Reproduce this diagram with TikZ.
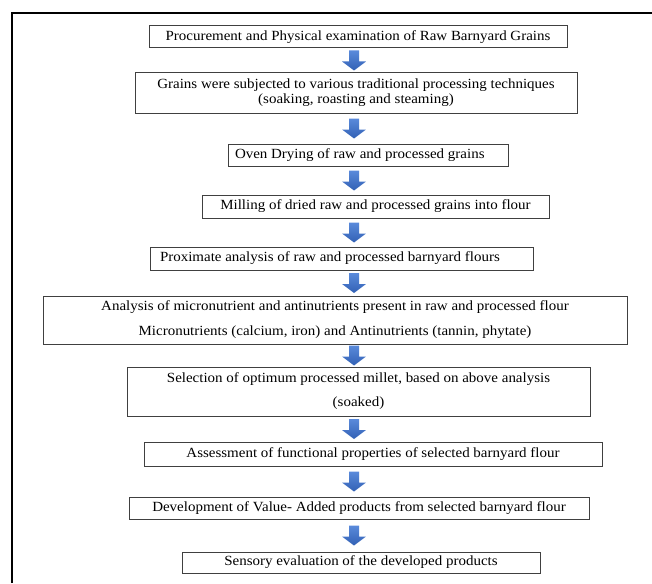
\documentclass[tikz,border=0pt]{standalone}
\usepackage{fontspec}
\setmainfont{Liberation Serif}[FakeStretch=1.07]
\usetikzlibrary{calc}
\definecolor{boxline}{HTML}{404040}
\definecolor{arrtop}{HTML}{5A8ADB}
\definecolor{arrbot}{HTML}{3261B4}
\tikzset{
  box/.style={draw=boxline, line width=1pt, inner sep=0pt, align=center,
    font=\fontsize{14}{15}\selectfont},
  downarrow/.pic={
    \shade[top color=arrtop, bottom color=arrbot]
      (-5,-10) -- (5,-10) -- (5,1) -- (12,1) -- (0,10) -- (-12,1) -- (-5,1) -- cycle;
  }
}
\begin{document}
\begin{tikzpicture}[x=1pt,y=-1pt]
\useasboundingbox (0,0) rectangle (652,583);
\draw[line width=1.3pt] (12,583) -- (12,13) -- (652,13);
\coordinate (ax) at (354,0);

\node[box, minimum width=418pt, minimum height=22pt] (b1) at (358,37)
  {Procurement and Physical examination of Raw Barnyard Grains};
\node[box, minimum width=442pt, minimum height=40pt] (b2) at (356,93)
  {Grains were subjected to various traditional processing techniques\\(soaking, roasting and steaming)};
\node[box, minimum width=280pt, minimum height=22pt, inner xsep=7pt, text width=266pt, align=flush left] (b3) at (368,155)
  {Oven Drying of raw and processed grains};
\node[box, minimum width=347pt, minimum height=23pt] (b4) at (375.5,206.5)
  {Milling of dried raw and processed grains into flour};
\node[box, minimum width=383pt, minimum height=23pt, inner xsep=10pt, text width=363pt, align=flush left] (b5) at (341.5,258.5)
  {Proximate analysis of raw and processed barnyard flours};
\node[box, minimum width=584pt, minimum height=48pt, font=\fontsize{14}{25}\selectfont] (b6) at (335,320)
  {Analysis of micronutrient and antinutrients present in raw and processed flour\\Micronutrients (calcium, iron) and Antinutrients (tannin, phytate)};
\node[box, minimum width=463pt, minimum height=49pt, font=\fontsize{14}{24}\selectfont] (b7) at (358.5,391.5)
  {Selection of optimum processed millet, based on above analysis\\(soaked)};
\node[box, minimum width=458pt, minimum height=24pt] (b8) at (373,454)
  {Assessment of functional properties of selected barnyard flour};
\node[box, minimum width=460pt, minimum height=22pt] (b9) at (359,508)
  {Development of Value- Added products from selected barnyard flour};
\node[box, minimum width=358pt, minimum height=21pt] (b10) at (361,562.5)
  {Sensory evaluation of the developed products};

\foreach \a/\b in {b1/b2,b2/b3,b3/b4,b4/b5,b5/b6,b6/b7,b7/b8,b8/b9,b9/b10}{
  \path ($(\a.south -| ax)!0.5!(\b.north -| ax)$) pic {downarrow};
}
\end{tikzpicture}
\end{document}
